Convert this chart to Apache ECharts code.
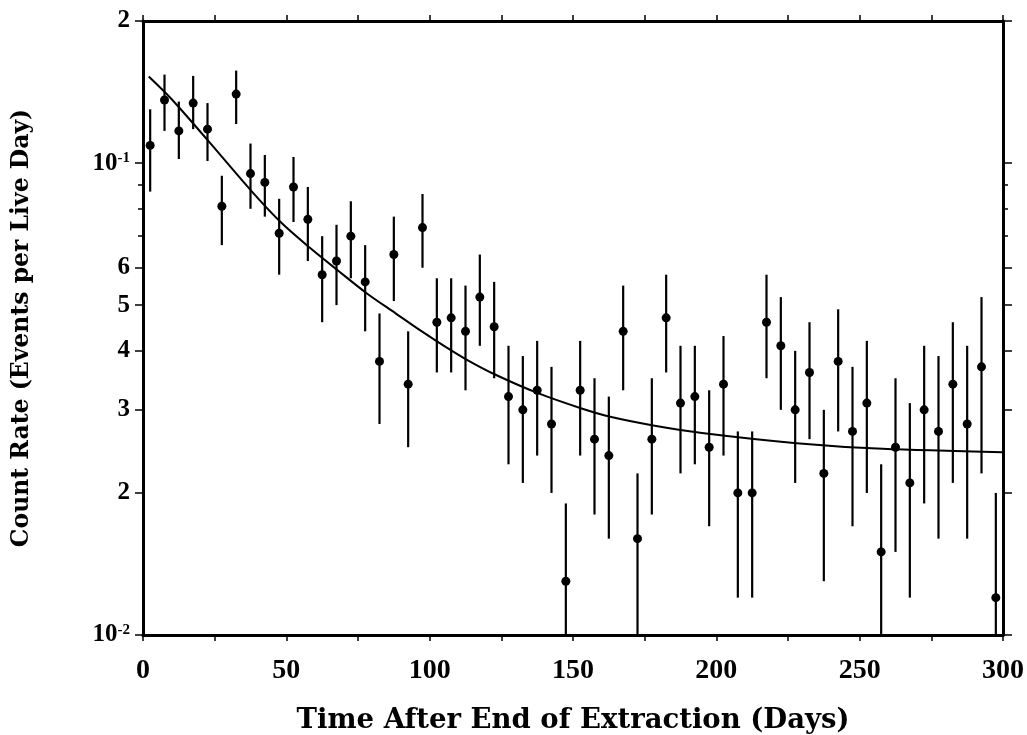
<!DOCTYPE html>
<html>
<head>
<meta charset="utf-8">
<script src="https://cdn.jsdelivr.net/npm/echarts@6/dist/echarts.min.js"></script>
<style>
html,body{margin:0;padding:0;background:#fff;}
#chart{width:1027px;height:735px;}
</style>
</head>
<body>
<div id="chart"></div>
<script>
// Measurement days (centre of each 5-day bin)
const days = [2.5,7.5,12.5,17.5,22.5,27.5,32.5,37.5,42.5,47.5,52.5,57.5,62.5,67.5,72.5,77.5,82.5,87.5,92.5,97.5,
  102.5,107.5,112.5,117.5,122.5,127.5,132.5,137.5,142.5,147.5,152.5,157.5,162.5,167.5,172.5,177.5,182.5,187.5,192.5,197.5,
  202.5,207.5,212.5,217.5,222.5,227.5,232.5,237.5,242.5,247.5,252.5,257.5,262.5,267.5,272.5,277.5,282.5,287.5,292.5,297.5];
// Count rate (events per live day)
const rate = [0.109,0.136,0.117,0.134,0.118,0.081,0.140,0.095,0.091,0.071,0.089,0.076,0.058,0.062,0.070,0.056,0.038,0.064,0.034,0.073,
  0.046,0.047,0.044,0.052,0.045,0.032,0.030,0.033,0.028,0.013,0.033,0.026,0.024,0.044,0.016,0.026,0.047,0.031,0.032,0.025,
  0.034,0.020,0.020,0.046,0.041,0.030,0.036,0.022,0.038,0.027,0.031,0.015,0.025,0.021,0.030,0.027,0.034,0.028,0.037,0.012];
// Upper end of error bar
const errHigh = [0.130,0.154,0.135,0.153,0.134,0.094,0.157,0.110,0.104,0.084,0.103,0.089,0.070,0.074,0.083,0.067,0.048,0.077,0.044,0.086,
  0.057,0.057,0.055,0.064,0.056,0.041,0.039,0.042,0.037,0.019,0.042,0.035,0.032,0.055,0.022,0.035,0.058,0.041,0.041,0.033,
  0.043,0.027,0.027,0.058,0.052,0.040,0.046,0.030,0.049,0.037,0.042,0.023,0.035,0.031,0.041,0.039,0.046,0.041,0.052,0.020];
// Lower end of error bar
const errLow = [0.087,0.117,0.102,0.118,0.101,0.067,0.121,0.080,0.077,0.058,0.075,0.062,0.046,0.050,0.057,0.044,0.028,0.051,0.025,0.060,
  0.036,0.036,0.033,0.041,0.035,0.023,0.021,0.024,0.020,0.010,0.024,0.018,0.016,0.033,0.010,0.018,0.036,0.022,0.023,0.017,
  0.024,0.012,0.012,0.035,0.030,0.021,0.026,0.013,0.027,0.017,0.020,0.010,0.015,0.012,0.019,0.016,0.021,0.016,0.022,0.010];
// Fitted curve
const fitDays = [2,10,23,38,48,58,68,78,88,97,105,113,123,138,153,163,178,195,228,258,300];
const fitRate = [0.1525,0.1365,0.111,0.0870,0.0750,0.0663,0.0592,0.0530,0.0481,0.0441,0.0410,0.0383,0.0356,0.0325,0.0302,0.0290,0.0278,0.0268,0.0255,0.0248,0.0244];
// Axis ticks / labels
const yLabelValues = [0.2,0.1,0.06,0.05,0.04,0.03,0.02,0.01];
const yLabelTexts = ['2','10{s|-1}','6','5','4','3','2','10{s|-2}'];
const yMajorTicks = [0.2,0.1,0.06,0.05,0.04,0.03,0.02,0.01];
const yMinorTicks = [0.09,0.08,0.07];
const xLabelValues = [0,50,100,150,200,250,300];

const SERIF = '"Liberation Serif","Times New Roman",serif';
const WIDE = '"DejaVu Serif",serif';
const chart = echarts.init(document.getElementById('chart'), null, {renderer:'canvas'});

function yFmt(v){
  for (let i=0;i<yLabelValues.length;i++){
    if (Math.abs(Math.log(v/yLabelValues[i]))<1e-4) return yLabelTexts[i];
  }
  return '';
}

const points = days.map((d,i)=>[d,rate[i]]);
const bars = days.map((d,i)=>[d,errLow[i],errHigh[i]]);
const fit = fitDays.map((d,i)=>[d,fitRate[i]]);

const logAxisBase = {type:'log',logBase:10,min:0.01,max:0.2,splitLine:{show:false},minorTick:{show:false}};

const option = {
  animation:false,
  backgroundColor:'#fff',
  grid:{left:143,right:24,top:21,bottom:100,containLabel:false,outerBoundsMode:'none'},
  xAxis:[{
    type:'value',min:0,max:300,interval:25,position:'bottom',
    name:'Time After End of Extraction (Days)',nameLocation:'middle',nameGap:72,
    nameTextStyle:{fontFamily:WIDE,fontWeight:'bold',fontSize:27.5,color:'#000'},
    axisLine:{lineStyle:{color:'#000',width:3}},
    axisTick:{inside:false,length:6,lineStyle:{color:'#000',width:1.5}},
    axisLabel:{customValues:xLabelValues,margin:22,fontFamily:SERIF,fontWeight:'bold',fontSize:28,color:'#000'},
    splitLine:{show:false}
  },{
    type:'value',min:0,max:300,interval:25,position:'top',
    axisLine:{onZero:false,lineStyle:{color:'#000',width:3}},
    axisTick:{inside:false,length:6,lineStyle:{color:'#000',width:1.5}},
    axisLabel:{show:false},splitLine:{show:false}
  }],
  yAxis:[Object.assign({},logAxisBase,{
    position:'left',
    name:'Count Rate (Events per Live Day)',nameLocation:'middle',nameGap:109,nameRotate:90,
    nameTextStyle:{fontFamily:WIDE,fontWeight:'bold',fontSize:23.5,color:'#000'},
    axisLine:{lineStyle:{color:'#000',width:3}},
    axisTick:{customValues:yMajorTicks,inside:false,length:8,lineStyle:{color:'#000',width:1.5}},
    axisLabel:{customValues:yLabelValues,formatter:yFmt,margin:13,fontFamily:SERIF,fontWeight:'bold',fontSize:25,color:'#000',
      rich:{s:{fontFamily:SERIF,fontWeight:'bold',fontSize:15,color:'#000',verticalAlign:'top',padding:[0,0,9,0]}}}
  }),Object.assign({},logAxisBase,{
    position:'left',
    axisLine:{show:false},
    axisTick:{customValues:yMinorTicks,inside:false,length:5,lineStyle:{color:'#000',width:1.5}},
    axisLabel:{show:false}
  }),Object.assign({},logAxisBase,{
    position:'right',
    axisLine:{lineStyle:{color:'#000',width:3}},
    axisTick:{customValues:yMajorTicks,inside:false,length:9,lineStyle:{color:'#000',width:1.5}},
    axisLabel:{show:false}
  }),Object.assign({},logAxisBase,{
    position:'right',
    axisLine:{show:false},
    axisTick:{customValues:yMinorTicks,inside:false,length:5,lineStyle:{color:'#000',width:1.5}},
    axisLabel:{show:false}
  })],
  series:[{
    type:'custom',
    name:'errors',
    xAxisIndex:0,yAxisIndex:0,
    clip:true,
    data:bars,
    renderItem:function(params,api){
      const x = api.value(0);
      const lo = Math.max(api.value(1),0.01);
      const hi = Math.min(api.value(2),0.2);
      const p1 = api.coord([x,lo]);
      const p2 = api.coord([x,hi]);
      return {type:'line',shape:{x1:p1[0],y1:p1[1],x2:p2[0],y2:p2[1]},style:{stroke:'#000',lineWidth:2.2}};
    },
    z:2
  },{
    type:'scatter',name:'rate',xAxisIndex:0,yAxisIndex:0,
    data:points,symbol:'circle',symbolSize:9,
    itemStyle:{color:'#000',opacity:1},z:3
  },{
    type:'line',name:'fit',xAxisIndex:0,yAxisIndex:0,
    data:fit,smooth:0.3,showSymbol:false,symbol:'none',
    lineStyle:{color:'#000',width:2},z:4
  }]
};
chart.setOption(option);
</script>
</body>
</html>
